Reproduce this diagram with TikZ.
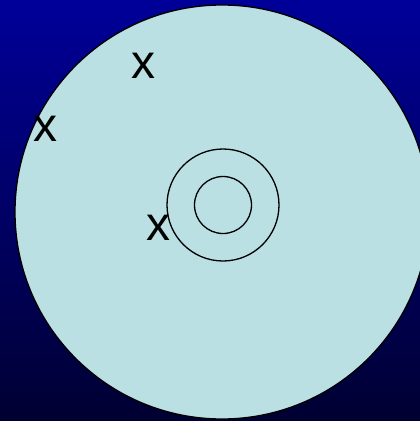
\documentclass[tikz,border=0pt]{standalone}
\usepackage{fontspec}
\setmainfont{Liberation Sans}
\usetikzlibrary{positioning}

\definecolor{bgtop}{RGB}{0,0,153}
\definecolor{bgbottom}{RGB}{0,0,50}
\definecolor{disc}{RGB}{186,224,228}

\begin{document}
\begin{tikzpicture}[
    x=1pt, y=-1pt,
    ring/.style={draw=black, line width=1.3pt},
    mark x/.style={font=\fontsize{48}{48}\selectfont, text=black, inner sep=0pt}
]
% background
\shade[top color=bgtop, bottom color=bgbottom] (0,0) rectangle (420,421);
\useasboundingbox (0,0) rectangle (420,421);
% disc and hole
\coordinate (disc c) at (222,212);
\coordinate (hub c) at (223,205);
\begin{scope}
  \clip (0,0) rectangle (420,421);
  \draw[ring, fill=disc] (disc c) circle[radius=207];
\end{scope}
\draw[ring] (hub c) circle[radius=56];
\draw[ring] (hub c) circle[radius=28.5];
% marks
\node[mark x] (x1) at (143,66) {x};
\node[mark x] (x2) at (46,129) {x};
\node[mark x] (x3) at (158,228) {x};
\end{tikzpicture}
\end{document}
